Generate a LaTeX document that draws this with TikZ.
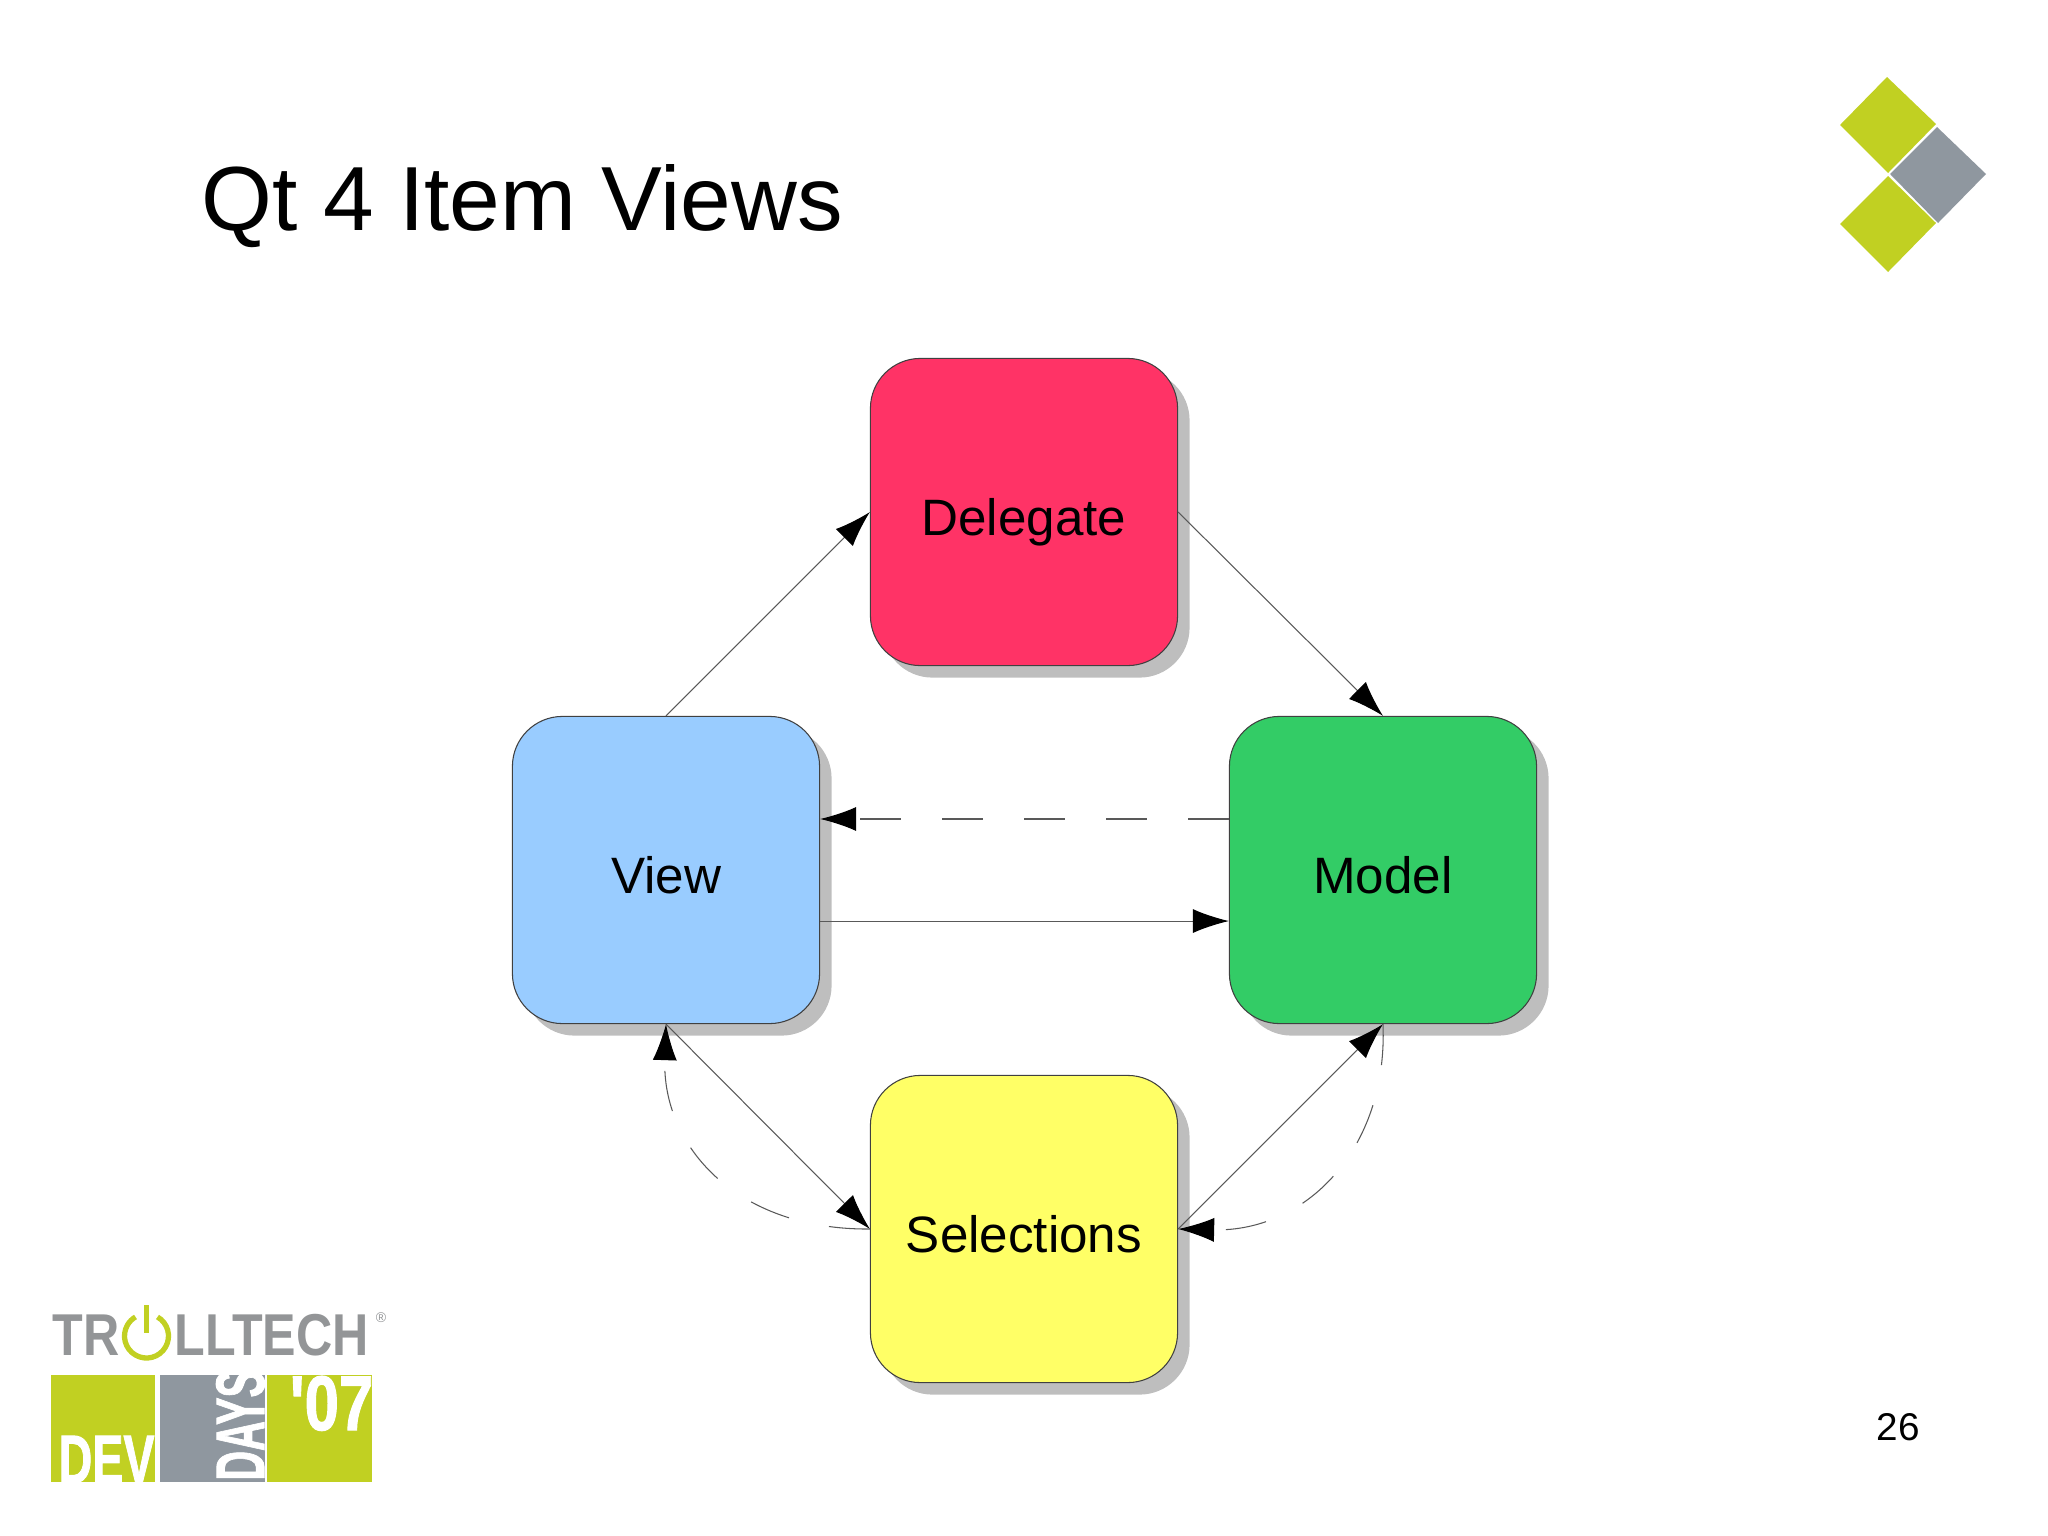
\documentclass[tikz,border=0pt]{standalone}
\usepackage{fontspec}
\setmainfont{Liberation Sans}
\newfontfamily\logofont[BoldFeatures={FakeBold=1.5}]{Liberation Sans}
\usetikzlibrary{arrows.meta}
\usetikzlibrary{shadows}
\definecolor{logogreen}{HTML}{C1D022}
\definecolor{logogray}{HTML}{8F979F}
\definecolor{trollgray}{HTML}{939597}
\definecolor{boxshadow}{HTML}{BEBEBE}
\tikzset{box/.style = {draw = black!75, line width = 0.3pt, rounded corners = 0.5cm, minimum size = 3.07cm, inner sep = 0, text height = 0.47cm, text depth = 0, font = \fontsize{14.55}{17}\selectfont, drop shadow = {shadow xshift = 0.12cm, shadow yshift = -0.12cm, fill = boxshadow, opacity = 1}}}
\tikzset{link/.style = {draw = black!65, line width = 0.3pt, -{Latex[length = 0.36cm, width = 0.24cm, black]}}}
\tikzset{backlink/.style = {link, dash pattern = on 0.41cm off 0.41cm}}
\tikzset{logotext/.style = {inner sep = 0, anchor = base, transform shape, font = \logofont\bfseries\fontsize{19.5}{20}\selectfont, text = white}}
\tikzset{trolltext/.style = {inner sep = 0, anchor = base west, xscale = 0.85, transform shape, font = \bfseries\fontsize{16.8}{18}\selectfont, text = trollgray}}

\begin{document}
\begin{tikzpicture}[x=0.01cm, y=-0.01cm]
    \useasboundingbox (0, 0) rectangle (2048, 1536);

    \node [anchor = base west, inner sep = 0, font = \fontsize{25.9}{30}\selectfont] (title) at (201, 230) {Qt 4 Item Views};
    \node [anchor = base, inner sep = 0, font = \fontsize{11}{13}\selectfont] (pagenum) at (1898, 1440) {26};

    % corner mark
    \fill [logogreen] (1887, 77) -- (1936, 124) -- (1888, 173) -- (1840, 125) -- cycle;
    \fill [logogray] (1937, 127) -- (1986, 174) -- (1938, 223) -- (1890, 174) -- cycle;
    \fill [logogreen] (1888, 176) -- (1936, 223) -- (1888, 272) -- (1840, 224) -- cycle;

    \node [box, fill = {rgb,255:red,255;green,51;blue,102}] (delegate) at (1024, 512) {Delegate};
    \node [box, fill = {rgb,255:red,153;green,204;blue,255}] (view) at (666, 870) {View};
    \node [box, fill = {rgb,255:red,51;green,204;blue,102}] (model) at (1383, 870) {Model};
    \node [box, fill = {rgb,255:red,255;green,255;blue,102}] (selections) at (1024, 1229) {Selections};

    \draw [link] (view.north) -- (delegate.west);
    \draw [link] (delegate.east) -- (model.north);
    \draw [link] ([yshift=-0.51cm]view.east) -- ([yshift=-0.51cm]model.west);
    \draw [backlink] ([yshift=0.51cm]model.west) -- ([yshift=0.51cm]view.east);
    \draw [link] (view.south) -- (selections.west);
    \draw [link] (selections.east) -- (model.south);
    \draw [backlink] (selections.west) .. controls (735, 1230) and (662, 1145) .. (view.south);
    \draw [backlink] (model.south) .. controls (1388, 1150) and (1305, 1232) .. (selections.east);

    % logo
    \node [trolltext] (troll) at (52, 1355) {TR};
    \node [trolltext] (tech) at (174, 1355) {LLTECH};
    \node [inner sep = 0, text = trollgray, font = \fontsize{4}{5}\selectfont] (regmark) at (381, 1318) {®};
    \draw [logogreen, line width = 1.5pt] (146.5, 1336) ++(-60:22) arc [start angle = -60, end angle = 240, radius = 22];
    \draw [logogreen, line width = 1.6pt] (146.5, 1305) -- (146.5, 1333);

    \fill [logogreen] (51, 1375) rectangle (155, 1482);
    \fill [logogray] (160, 1375) rectangle (265, 1482);
    \fill [logogreen] (267, 1375) rectangle (372, 1482);
    \begin{scope}
      \clip (51, 1375) rectangle (372, 1482);
      \node [logotext, anchor = base east, xscale = 0.68] (dev) at (155, 1483) {DEV};
      \node [logotext, anchor = base west, rotate = 90, xscale = 0.6] (days) at (264, 1481) {DAYS};
      \node [logotext, anchor = base east, xscale = 0.8, font = \logofont\bfseries\fontsize{22}{24}\selectfont] (year) at (374, 1430) {'07};
    \end{scope}
\end{tikzpicture}
\end{document}
